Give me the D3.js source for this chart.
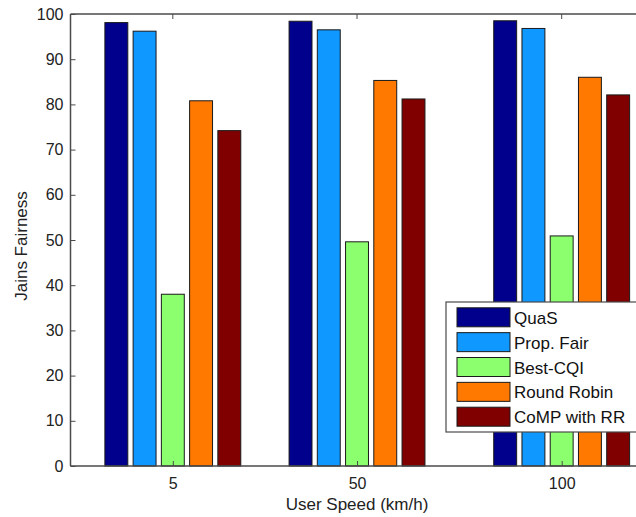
<!DOCTYPE html>
<html><head><meta charset="utf-8">
<script src="https://cdn.jsdelivr.net/npm/d3@7"></script>
<style>html,body{margin:0;padding:0;background:#fff;overflow:hidden}</style>
</head><body>
<svg id="chart" width="636" height="517"></svg>
<script>
const speeds = [5, 50, 100];
const seriesNames = ["QuaS", "Prop. Fair", "Best-CQI", "Round Robin", "CoMP with RR"];
const quas = [98.1, 98.4, 98.5];
const propFair = [96.2, 96.5, 96.8];
const bestCqi = [38.0, 49.6, 50.9];
const roundRobin = [80.8, 85.3, 86.0];
const compRR = [74.2, 81.2, 82.1];
const colors = ["#00008c", "#0f98ff", "#8cff6e", "#ff7800", "#800000"];
const yTicks = [0, 10, 20, 30, 40, 50, 60, 70, 80, 90, 100];
const allSeries = [quas, propFair, bestCqi, roundRobin, compRR];

const svg = d3.select("#chart");
const m = {left: 70, top: 14, bottom: 466};
const x = d3.scaleLinear().domain([-20, 125]).range([70.5, 664]);
const y = d3.scaleLinear().domain([0, 100]).range([m.bottom, m.top]);
const pitch = 6.9, bw = 5.6; // data units
const font = "Arial, 'Liberation Sans', sans-serif";
const axisCol = "#4a4a4a";

// bars
allSeries.forEach((vals, si) => {
  svg.append("g").selectAll("rect").data(vals).join("rect")
    .attr("x", (d, i) => x(speeds[i] + (si - 2) * pitch - bw / 2))
    .attr("width", (d, i) => x(speeds[i] + bw / 2) - x(speeds[i] - bw / 2))
    .attr("y", d => y(d))
    .attr("height", d => y(0) - y(d))
    .attr("fill", colors[si])
    .attr("stroke", "#1a1a1a").attr("stroke-width", 1);
});

// frame
const fr = svg.append("g").attr("stroke", axisCol).attr("stroke-width", 1.5).attr("fill", "none");
fr.append("line").attr("x1", x(-20)).attr("x2", 640).attr("y1", y(0)).attr("y2", y(0));
fr.append("line").attr("x1", x(-20)).attr("x2", 640).attr("y1", y(100)).attr("y2", y(100));
fr.append("line").attr("x1", x(-20)).attr("x2", x(-20)).attr("y1", y(0)).attr("y2", y(100));

// y axis
const yAxis = d3.axisLeft(y).tickValues(yTicks).tickSizeInner(-5).tickSizeOuter(0).tickPadding(7);
const yg = svg.append("g").attr("transform", `translate(${x(-20)},0)`).call(yAxis);
yg.select(".domain").remove();
yg.selectAll("line").attr("stroke", axisCol).attr("stroke-width", 1);
yg.selectAll("text").attr("font-family", font).attr("font-size", 16).attr("fill", "#222");

// x axis
const xAxis = d3.axisBottom(x).tickValues(speeds).tickSizeInner(-5).tickSizeOuter(0).tickPadding(12).tickFormat(d3.format("d"));
const xg = svg.append("g").attr("transform", `translate(0,${y(0)})`).call(xAxis);
xg.select(".domain").remove();
xg.selectAll("line").attr("stroke", axisCol).attr("stroke-width", 1);
xg.selectAll("text").attr("font-family", font).attr("font-size", 16).attr("fill", "#222");
// top ticks
svg.append("g").selectAll("line").data(speeds).join("line")
  .attr("x1", d => x(d)).attr("x2", d => x(d)).attr("y1", y(100)).attr("y2", y(100) + 5)
  .attr("stroke", axisCol).attr("stroke-width", 1);

// axis labels
svg.append("text").attr("x", x(50)).attr("y", 510).attr("text-anchor", "middle")
  .attr("font-family", font).attr("font-size", 17).attr("fill", "#222").text("User Speed (km/h)");
svg.append("text").attr("transform", `translate(27,${(y(0) + y(100)) / 2 + 6}) rotate(-90)`).attr("text-anchor", "middle")
  .attr("font-family", font).attr("font-size", 17).attr("fill", "#222").text("Jains Fairness");

// legend
const lg = svg.append("g").attr("transform", "translate(446,302)");
lg.append("rect").attr("x", 0).attr("y", 0).attr("width", 200).attr("height", 130)
  .attr("fill", "#fff").attr("stroke", axisCol).attr("stroke-width", 1.2);
const rows = lg.selectAll("g.row").data(seriesNames).join("g").attr("class", "row")
  .attr("transform", (d, i) => `translate(0,${15.3 + i * 24.85})`);
rows.append("rect").attr("x", 11).attr("y", -9.5).attr("width", 53).attr("height", 19)
  .attr("fill", (d, i) => colors[i]).attr("stroke", "#1a1a1a").attr("stroke-width", 1);
rows.append("text").attr("x", 68).attr("y", 6.5).attr("font-family", font).attr("font-size", 17)
  .attr("fill", "#111").text(d => d);
</script>
</body></html>
